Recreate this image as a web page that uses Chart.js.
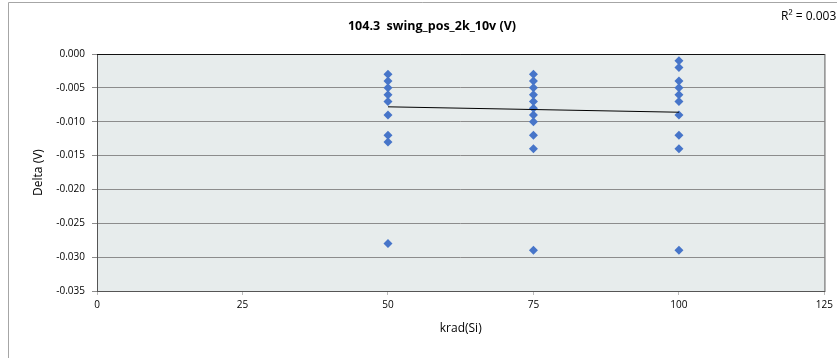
<!DOCTYPE html>
<html>
<head>
<meta charset="utf-8">
<script src="https://cdn.jsdelivr.net/npm/chart.js@4"></script>
<style>
  html, body { margin: 0; padding: 0; background: #fff; }
  #wrap { width: 837px; height: 358px; position: relative; }
</style>
</head>
<body>
<div id="wrap"><canvas id="chart"></canvas></div>
<script>
let titleText = "104.3  swing_pos_2k_10v (V)";
let r2Text = "R\u00b2 = 0.003";

// readings per dose (krad(Si))
let x50 = [-0.003, -0.004, -0.005, -0.006, -0.007, -0.009, -0.012, -0.013, -0.028];
let x75 = [-0.003, -0.004, -0.005, -0.006, -0.007, -0.008, -0.009, -0.010, -0.012, -0.014, -0.029];
let x100 = [-0.001, -0.002, -0.004, -0.005, -0.006, -0.007, -0.009, -0.012, -0.014, -0.029];

// linear trendline as drawn in the picture
let trendX = [50, 100];
let trendY = [-0.0078, -0.0086];

let xTicks = [0, 25, 50, 75, 100, 125];
let yTicks = [0, -0.005, -0.01, -0.015, -0.02, -0.025, -0.03, -0.035];

let font = "'Open Sans', 'Liberation Sans', sans-serif";

function toPoints(x, values) {
  return values.map((v) => ({ x: x, y: v }));
}

let points = []
  .concat(toPoints(50, x50))
  .concat(toPoints(75, x75))
  .concat(toPoints(100, x100));

let trend = trendX.map((x, i) => ({ x: x, y: trendY[i] }));

// plot background, frame, title and R² label
let decor = {
  id: "decor",
  beforeDraw(chart) {
    const ctx = chart.ctx;
    const a = chart.chartArea;
    ctx.save();
    ctx.fillStyle = "#fff";
    ctx.fillRect(0, 0, chart.width, chart.height);
    ctx.strokeStyle = "#a6a6a6";
    ctx.lineWidth = 1;
    ctx.beginPath();
    ctx.moveTo(8.5, chart.height);
    ctx.lineTo(8.5, 2.5);
    ctx.lineTo(chart.width, 2.5);
    ctx.stroke();
    ctx.fillStyle = "#e7ecec";
    ctx.fillRect(a.left, a.top, a.right - a.left, a.bottom - a.top);
    ctx.restore();
  },
  afterDatasetsDraw(chart) {
    const ctx = chart.ctx;
    const a = chart.chartArea;
    ctx.save();
    ctx.strokeStyle = "#555";
    ctx.lineWidth = 1;
    ctx.strokeRect(a.left + 0.5, a.top + 0.5, a.right - a.left, a.bottom - a.top);
    ctx.strokeStyle = "#111";
    ctx.beginPath();
    ctx.moveTo(a.left, a.top + 0.5);
    ctx.lineTo(a.right, a.top + 0.5);
    ctx.stroke();
    ctx.fillStyle = "#000";
    ctx.font = "bold 12.5px " + font;
    ctx.textAlign = "center";
    ctx.textBaseline = "middle";
    ctx.fillText(titleText, 432, 26);
    ctx.font = "12px " + font;
    ctx.textAlign = "left";
    ctx.fillText(r2Text, 781, 17);
    ctx.restore();
  },
};

new Chart(document.querySelector("#chart"), {
  type: "scatter",
  data: {
    datasets: [
      {
        label: "Delta",
        data: points,
        pointStyle: "rectRot",
        pointRadius: 4.5,
        pointHoverRadius: 4.5,
        backgroundColor: "#4775c9",
        borderColor: "#4775c9",
        borderWidth: 0,
        order: 2,
      },
      {
        label: "Trend",
        type: "line",
        data: trend,
        borderColor: "#000",
        borderWidth: 1,
        pointRadius: 0,
        fill: false,
        order: 1,
      },
    ],
  },
  options: {
    responsive: true,
    maintainAspectRatio: false,
    animation: false,
    layout: { padding: { left: 8, right: 9, top: 54, bottom: 20 } },
    plugins: {
      legend: { display: false },
      tooltip: { enabled: false },
    },
    scales: {
      x: {
        type: "linear",
        min: 0,
        max: 125,
        afterBuildTicks: (s) => { s.ticks = xTicks.map((v) => ({ value: v })); },
        afterFit: (s) => { s.height = 47; },
        ticks: { color: "#000", font: { family: font, size: 10 }, padding: 4, maxRotation: 0 },
        grid: { drawOnChartArea: false, tickLength: 4, color: "#bbb" },
        border: { display: false },
        title: {
          display: true,
          text: "krad(Si)",
          color: "#000",
          font: { family: font, size: 12 },
          padding: { top: 4, bottom: 2 },
        },
      },
      y: {
        type: "linear",
        min: -0.035,
        max: 0,
        afterBuildTicks: (s) => { s.ticks = yTicks.map((v) => ({ value: v })); },
        afterFit: (s) => { s.width = 89; },
        ticks: {
          color: "#000",
          font: { family: font, size: 10 },
          padding: 7,
          callback: (v) => (v === 0 ? "0.000" : v.toFixed(3)),
        },
        grid: { color: "#8c8c8c", tickLength: 5, lineWidth: 1 },
        border: { display: false },
        title: {
          display: true,
          text: "Delta (V)",
          color: "#000",
          font: { family: font, size: 12 },
          padding: { top: 23, bottom: 4 },
        },
      },
    },
  },
  plugins: [decor],
});
</script>
</body>
</html>
